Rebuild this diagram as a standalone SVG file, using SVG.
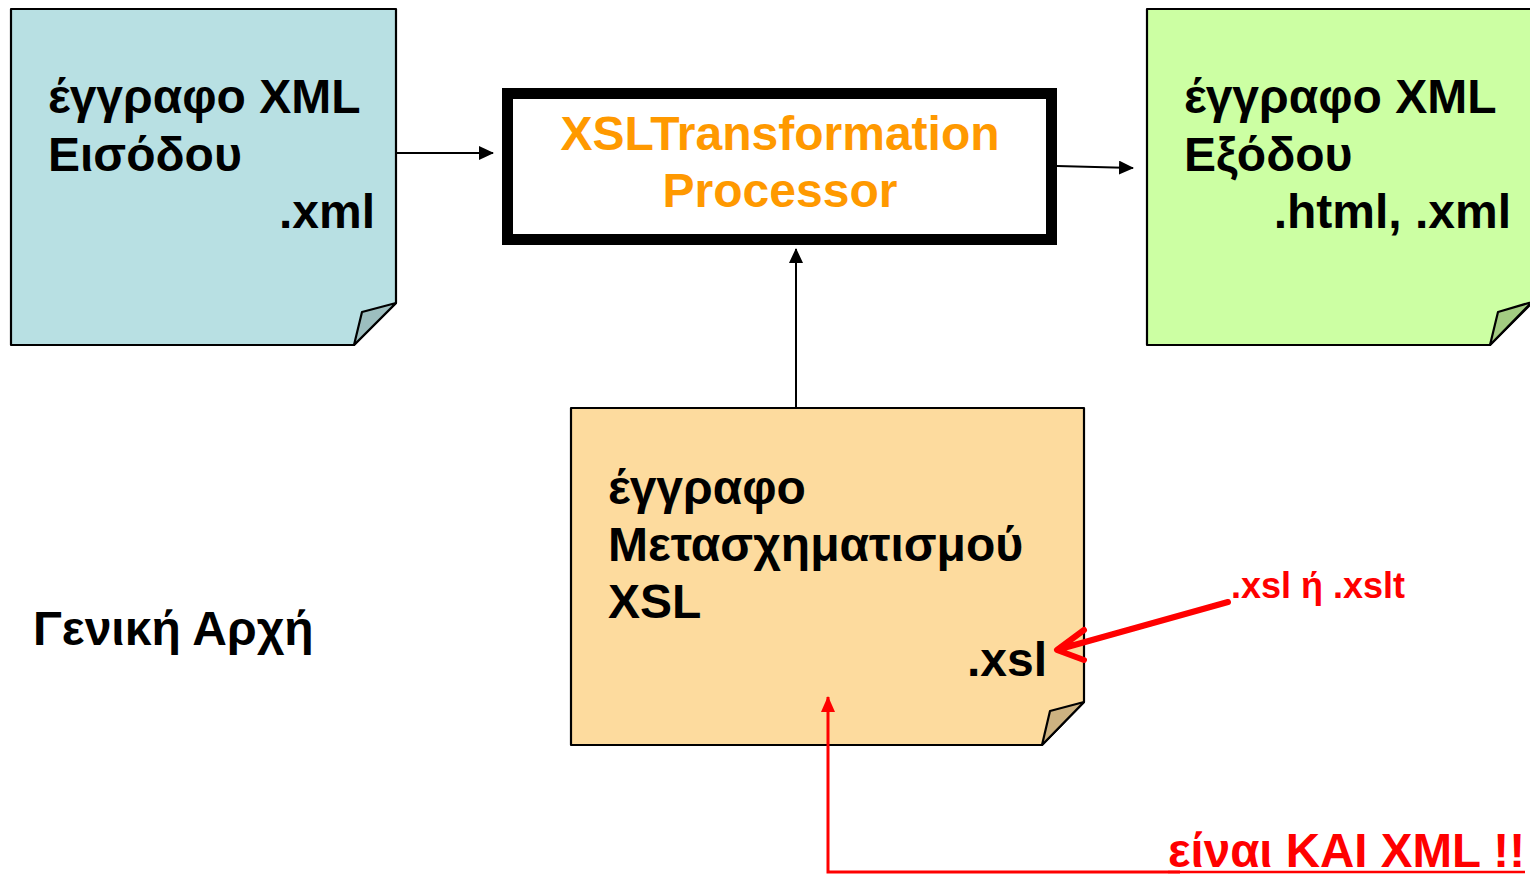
<svg xmlns="http://www.w3.org/2000/svg" width="1530" height="874" viewBox="0 0 1530 874">
  <style>
    .note { stroke: #000; stroke-width: 2.2; stroke-linejoin: round; }
    .flap { stroke: #000; stroke-width: 2.2; stroke-linejoin: round; }
    .t { font-family: "Liberation Sans", Arial, sans-serif; font-weight: bold; font-size: 48px; fill: #000; }
    .proc { font-family: "Liberation Sans", Arial, sans-serif; font-weight: bold; font-size: 48px; fill: #ff9900; }
    .red { font-family: "Liberation Sans", Arial, sans-serif; font-weight: bold; fill: #ff0000; }
    .conn { stroke: #000; stroke-width: 2; fill: none; }
  </style>
  <defs>
    <marker id="ah" markerWidth="15" markerHeight="14" refX="14" refY="7" orient="auto" markerUnits="userSpaceOnUse">
      <path d="M0,0 L15,7 L0,14 Z" fill="#000"/>
    </marker>
    <marker id="ahRed" markerWidth="16" markerHeight="14" refX="15" refY="7" orient="auto" markerUnits="userSpaceOnUse">
      <path d="M0,0 L16,7 L0,14 Z" fill="#ff0000"/>
    </marker>
  </defs>
  <rect width="1530" height="874" fill="#fff"/>

  <!-- input document -->
  <g id="input-doc">
    <path class="note" d="M11,9 H396 V303 L354,345 H11 Z" fill="#b8e0e3"/>
    <path class="flap" d="M396,303 L362,312 L354,345 Z" fill="#9cbebf"/>
    <text class="t" x="48" y="113">έγγραφο XML</text>
    <text class="t" x="48" y="171">Εισόδου</text>
    <text class="t" x="375" y="228" text-anchor="end">.xml</text>
  </g>

  <!-- processor -->
  <g id="processor">
    <rect x="507.5" y="93.5" width="544" height="146" fill="#fff" stroke="#000" stroke-width="11"/>
    <text class="proc" x="780" y="150" text-anchor="middle">XSLTransformation</text>
    <text class="proc" x="780" y="207" text-anchor="middle">Processor</text>
  </g>

  <!-- output document -->
  <g id="output-doc">
    <path class="note" d="M1147,9 H1532 V303 L1490,345 H1147 Z" fill="#ccffa3"/>
    <path class="flap" d="M1532,302 L1498,312 L1490,345 Z" fill="#a3cc82"/>
    <text class="t" x="1184" y="113">έγγραφο XML</text>
    <text class="t" x="1184" y="171">Εξόδου</text>
    <text class="t" x="1511" y="228" text-anchor="end">.html, .xml</text>
  </g>

  <!-- stylesheet document -->
  <g id="xsl-doc">
    <path class="note" d="M571,408 H1084 V702 L1042,745 H571 Z" fill="#fddb9e"/>
    <path class="flap" d="M1084,702 L1050,711 L1042,745 Z" fill="#cdb281"/>
    <text class="t" x="608" y="504">έγγραφο</text>
    <text class="t" x="608" y="561">Μετασχηματισμού</text>
    <text class="t" x="608" y="618">XSL</text>
    <text class="t" x="1047" y="676" text-anchor="end">.xsl</text>
  </g>

  <!-- caption -->
  <g id="caption">
    <text class="t" x="33" y="645">Γενική Αρχή</text>
  </g>

  <!-- annotations -->
  <g id="notes">
    <text class="red" x="1231" y="598" font-size="36">.xsl ή .xslt</text>
    <text class="red" x="1168" y="867" font-size="48" textLength="357" lengthAdjust="spacingAndGlyphs">είναι KAI XML !!</text>
    <line x1="1168" y1="872" x2="1525" y2="872" stroke="#ff0000" stroke-width="2.5"/>
  </g>

  <!-- connectors -->
  <g id="connectors">
    <line class="conn" x1="397" y1="153" x2="493" y2="153" marker-end="url(#ah)"/>
    <line class="conn" x1="1057" y1="166" x2="1133" y2="168" marker-end="url(#ah)"/>
    <line class="conn" x1="796" y1="408" x2="796" y2="249" marker-end="url(#ah)"/>
    <path d="M1228,602 L1060,649 M1084,630 L1057,650 L1084,660" stroke="#ff0000" stroke-width="6" fill="none" stroke-linecap="round" stroke-linejoin="round"/>
    <path d="M1180,872 H828 V697" stroke="#ff0000" stroke-width="3" fill="none" marker-end="url(#ahRed)"/>
  </g>
</svg>
